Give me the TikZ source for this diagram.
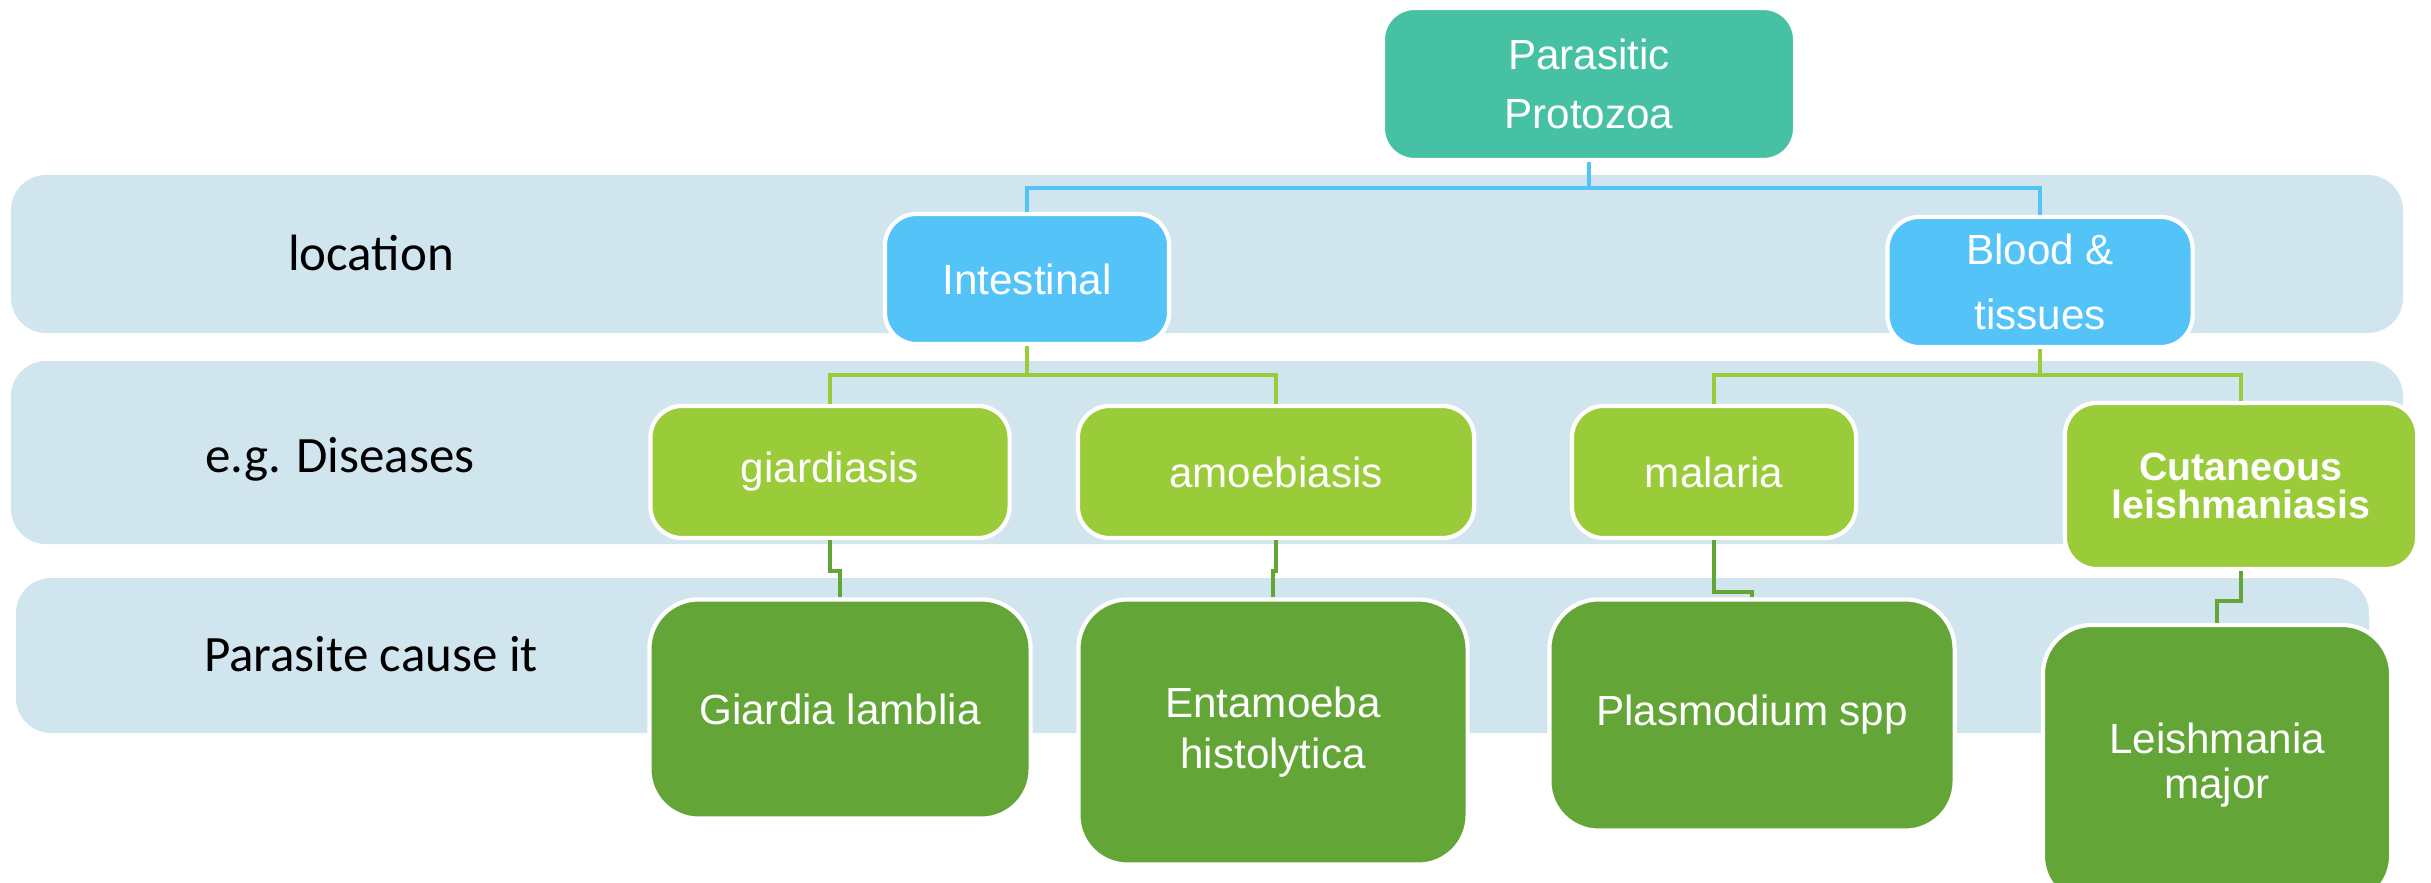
\documentclass[tikz,border=0pt]{standalone}
\usepackage{fontspec}
\setmainfont{Liberation Sans}
\newfontfamily\labfont{Carlito}
\definecolor{bandc}{HTML}{D1E5EE}
\definecolor{teal}{HTML}{46C1A3}
\definecolor{skyb}{HTML}{53C3F8}
\definecolor{lgreen}{HTML}{9ACB38}
\definecolor{dgreen}{HTML}{63A537}
\tikzset{
  band/.style={fill=bandc, rounded corners=10pt},
  box/.style={draw=white, line width=1.2pt, rounded corners=9pt, text=white, align=center, inner sep=0pt},
  topbox/.style={box, fill=teal},
  locbox/.style={box, fill=skyb},
  disbox/.style={box, fill=lgreen},
  parbox/.style={box, fill=dgreen, rounded corners=14pt},
  rowlab/.style={font=\labfont\fontsize{14.5}{17}\selectfont, text=black},
  cb/.style={draw=skyb, line width=1.1pt},
  cg/.style={draw=lgreen, line width=1.1pt},
  cd/.style={draw=dgreen, line width=1.1pt},
}
\begin{document}
\begin{tikzpicture}[x=0.01cm, y=-0.01cm]
\useasboundingbox (0,0) rectangle (2431,882);
\clip (0,0) rectangle (2431,882);
% bands
\fill[band] (11,175) rectangle (2403,333);
\fill[band] (11,361) rectangle (2403,544);
\fill[band] (16,578) rectangle (2369,733);
\node[rowlab] (l1) at (371,253) {location};
\node[rowlab] (l2) at (340,459) {e.g. Diseases};
\node[rowlab] (l3) at (371,654) {Parasite cause it};
% nodes
\node[topbox, minimum width=4.12cm, minimum height=1.52cm, font=\fontsize{12}{17}\selectfont] (top) at (1589,84) {Parasitic\\Protozoa};
\node[locbox, minimum width=2.84cm, minimum height=1.30cm, font=\fontsize{12}{17}\selectfont] (int) at (1027,279) {Intestinal};
\node[locbox, minimum width=3.05cm, minimum height=1.30cm, font=\fontsize{12}{18.5}\selectfont] (blood) at (2040,282) {Blood \&\\tissues};
\node[disbox, minimum width=3.59cm, minimum height=1.32cm, font=\fontsize{12}{17}\selectfont] (giar) at (830,472) {giardiasis};
\node[disbox, minimum width=3.96cm, minimum height=1.32cm, font=\fontsize{12}{17}\selectfont] (amoe) at (1276,472) {amoebiasis};
\node[disbox, minimum width=2.84cm, minimum height=1.32cm, font=\fontsize{12}{17}\selectfont] (mal) at (1714,472) {malaria};
\node[disbox, minimum width=3.52cm, minimum height=1.66cm, font=\bfseries\fontsize{11.2}{11}\selectfont] (cut) at (2241,486) {Cutaneous\\leishmaniasis};
\node[parbox, minimum width=3.81cm, minimum height=2.19cm, font=\fontsize{12}{17}\selectfont] (gl) at (840,709) {Giardia lamblia};
\node[parbox, minimum width=3.89cm, minimum height=2.65cm, font=\fontsize{12}{14.5}\selectfont] (eh) at (1273,732) {Entamoeba\\histolytica};
\node[parbox, minimum width=4.05cm, minimum height=2.31cm, font=\fontsize{12}{17}\selectfont] (ps) at (1752,715) {Plasmodium spp};
\node[parbox, minimum width=3.48cm, minimum height=2.80cm, font=\fontsize{12}{13}\selectfont] (lm) at (2217,765) {Leishmania\\major};
% connector levels
\coordinate (y1) at (0,188);
\coordinate (y2) at (0,375);
\coordinate (y3) at (0,571);
\coordinate (y4) at (0,592);
\coordinate (y5) at (0,601);
\draw[cb] (top.south) -- (top.south |- y1) -| (int.north);
\draw[cb] (top.south |- y1) -| (blood.north);
\draw[cg] (int.south) -- (int.south |- y2) -| (giar.north);
\draw[cg] (int.south |- y2) -| (amoe.north);
\draw[cg] (blood.south) -- (blood.south |- y2) -| (mal.north);
\draw[cg] (blood.south |- y2) -| (cut.north);
\draw[cd] (giar.south) -- (giar.south |- y3) -| (gl.north);
\draw[cd] (amoe.south) -- (amoe.south |- y3) -| (eh.north);
\draw[cd] (mal.south) -- (mal.south |- y4) -| (ps.north);
\draw[cd] (cut.south) -- (cut.south |- y5) -| (lm.north);
\end{tikzpicture}
\end{document}
